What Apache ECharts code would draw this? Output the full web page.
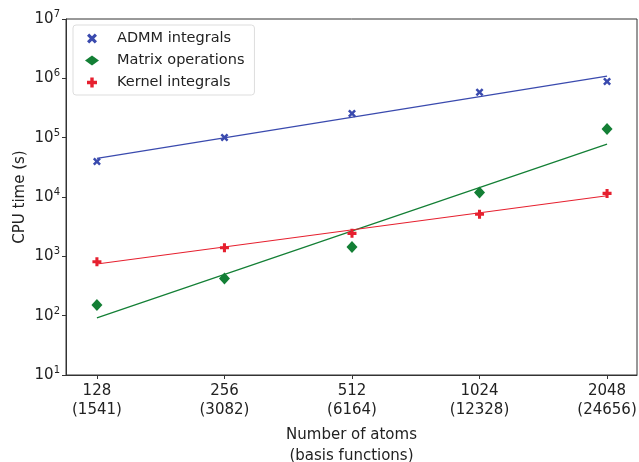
<!DOCTYPE html>
<html><head><meta charset="utf-8">
<script src="https://cdn.jsdelivr.net/npm/echarts@6/dist/echarts.min.js"></script>
<style>html,body{margin:0;padding:0;background:#fff}#c{width:639px;height:462px}</style>
</head><body><div id="c"></div>
<script>
var atoms = [128, 256, 512, 1024, 2048];
var basis = [1541, 3082, 6164, 12328, 24656];
var admm = [39800, 101000, 255000, 584000, 886000];
var matrixOps = [152, 425, 1440, 11900, 140000];
var kernel = [813, 1400, 2440, 5120, 11500];
var fitX = [128, 2048];
var admmFit = [44700, 1090000];
var matrixFit = [92, 78000];
var kernelFit = [743, 10500];

var cBlue = '#3a4aae', cGreen = '#137f35', cRed = '#e6202f';
var symX = 'path://M2.2,0 L5,2.8 L7.8,0 L10,2.2 L7.2,5 L10,7.8 L7.8,10 L5,7.2 L2.2,10 L0,7.8 L2.8,5 L0,2.2 Z';
var symP = 'path://M3.3,0 H6.7 V3.3 H10 V6.7 H6.7 V10 H3.3 V6.7 H0 V3.3 H3.3 Z';
var font = 'DejaVu Sans';

function pairs(xs, ys){ return xs.map(function(x,i){return [x, ys[i]];}); }

var chart = echarts.init(document.getElementById('c'));
chart.setOption({
  animation: false,
  textStyle: {fontFamily: font},
  grid: {left: 66, right: 2, top: 19, bottom: 87, containLabel: false, outerBoundsMode: 'none',
         show: true, borderColor: '#333', borderWidth: 1, backgroundColor: 'transparent'},
  legend: {
    orient: 'vertical', left: 73, top: 25, padding: [6, 10, 5, 12], itemGap: 7,
    itemWidth: 14, itemHeight: 10,
    borderColor: '#ddd', borderWidth: 1, borderRadius: 3,
    textStyle: {fontFamily: font, fontSize: 14.5, color: '#222', padding: [0,0,0,13]},
    data: ['ADMM integrals', 'Matrix operations', 'Kernel integrals']
  },
  xAxis: {
    type: 'log', logBase: 2, min: 108.2, max: 2410,
    name: 'Number of atoms\n(basis functions)', nameLocation: 'middle', nameGap: 40,
    nameTextStyle: {fontFamily: font, fontSize: 15, color: '#222', lineHeight: 21},
    axisLine: {show: true, lineStyle: {color: '#333'}},
    axisTick: {show: true, length: 4, lineStyle: {color: '#333'}, customValues: atoms},
    splitLine: {show: false},
    axisLabel: {
      customValues: atoms, fontFamily: font, fontSize: 15, color: '#222', lineHeight: 19, margin: 7,
      formatter: function(v){ var i = atoms.indexOf(Math.round(v)); return i < 0 ? '' : atoms[i] + '\n(' + basis[i] + ')'; }
    }
  },
  yAxis: {
    type: 'log', logBase: 10, min: 10, max: 10000000,
    name: 'CPU time (s)', nameLocation: 'middle', nameGap: 38, nameMoveOverlap: false,
    nameTextStyle: {fontFamily: font, fontSize: 15, color: '#222'},
    axisLine: {show: true, lineStyle: {color: '#333'}},
    axisTick: {show: true, length: 4, lineStyle: {color: '#333'}},
    splitLine: {show: false},
    axisLabel: {
      fontFamily: font, fontSize: 15, color: '#222', margin: 6,
      formatter: function(v){ var e = Math.round(Math.log10(v)); return '10{s|' + e + '}'; },
      rich: {s: {fontSize: 10, verticalAlign: 'top', padding: [0,0,9,0], fontFamily: font, color: '#222'}}
    }
  },
  series: [
    {name: 'ADMM integrals', type: 'scatter', data: pairs(atoms, admm), symbol: symX, symbolSize: 8, itemStyle: {color: cBlue, opacity: 1}, z: 5},
    {name: 'Matrix operations', type: 'scatter', data: pairs(atoms, matrixOps), symbol: 'diamond', symbolSize: [11, 12], itemStyle: {color: cGreen, opacity: 1}, z: 5},
    {name: 'Kernel integrals', type: 'scatter', data: pairs(atoms, kernel), symbol: symP, symbolSize: 9, itemStyle: {color: cRed, opacity: 1}, z: 5},
    {name: 'ADMM fit', type: 'line', data: pairs(fitX, admmFit), symbol: 'none', lineStyle: {color: cBlue, width: 1.2}, z: 3},
    {name: 'Matrix fit', type: 'line', data: pairs(fitX, matrixFit), symbol: 'none', lineStyle: {color: cGreen, width: 1.2}, z: 3},
    {name: 'Kernel fit', type: 'line', data: pairs(fitX, kernelFit), symbol: 'none', lineStyle: {color: cRed, width: 1.2}, z: 3}
  ]
});
</script></body></html>
